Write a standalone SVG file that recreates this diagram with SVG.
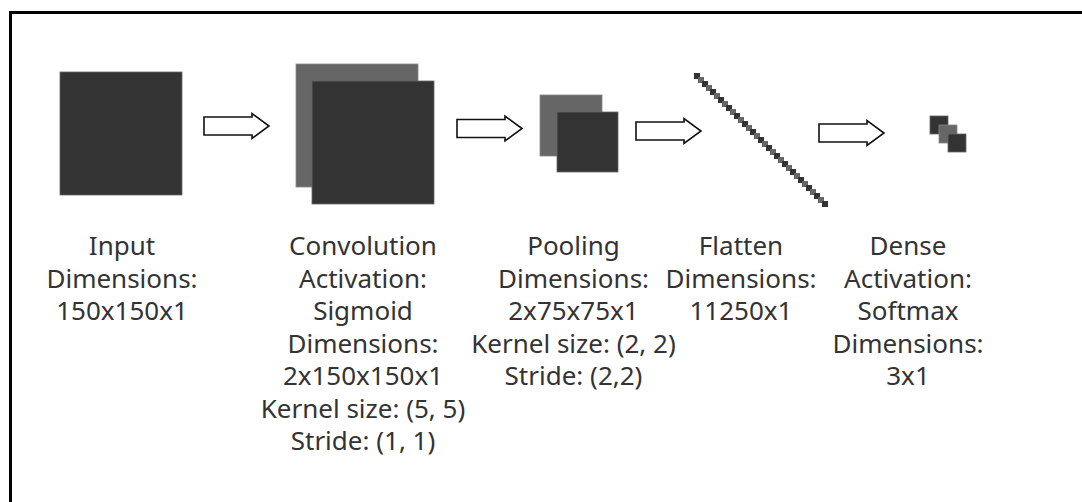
<svg xmlns="http://www.w3.org/2000/svg" xmlns:xlink="http://www.w3.org/1999/xlink" width="1082" height="502" viewBox="0 0 1082 502">
<style>
.dk{fill:#333;stroke:#666;stroke-width:0.8}
.lt{fill:#666;stroke:#888;stroke-width:0.8}
.fd{fill:#333}
.fl{fill:#666}
.lbl{font-family:"Noto Sans","Open Sans","DejaVu Sans",sans-serif;font-size:26px;fill:#333;text-anchor:middle}
.arr{fill:#fff;stroke:#111;stroke-width:1.6;stroke-linejoin:miter}
</style>
<defs>
<path id="arrow" d="M0,-9 H48 V-12.5 L65,0 L48,12.5 V9 H0 Z"/>
</defs>
<rect x="0" y="0" width="1082" height="502" fill="#fff"/>
<path d="M10.5,502 V12.5 H1082" fill="none" stroke="#000" stroke-width="3"/>

<g id="input">
<rect class="dk" x="60" y="72" width="122" height="123"/>
<text class="lbl" x="122" y="255">Input</text>
<text class="lbl" x="122" y="287.5">Dimensions:</text>
<text class="lbl" x="122" y="320">150x150x1</text>
</g>

<g id="convolution">
<rect class="lt" x="296" y="64" width="122" height="123"/>
<rect class="dk" x="312" y="81" width="122" height="123"/>
<text class="lbl" x="363" y="255">Convolution</text>
<text class="lbl" x="363" y="287.5">Activation:</text>
<text class="lbl" x="363" y="320">Sigmoid</text>
<text class="lbl" x="363" y="352.5">Dimensions:</text>
<text class="lbl" x="363" y="385">2x150x150x1</text>
<text class="lbl" x="363" y="417.5">Kernel size: (5, 5)</text>
<text class="lbl" x="363" y="450">Stride: (1, 1)</text>
</g>

<g id="pooling">
<rect class="lt" x="540" y="95" width="62" height="61"/>
<rect class="dk" x="557" y="112" width="61" height="60"/>
<text class="lbl" x="573.5" y="255">Pooling</text>
<text class="lbl" x="573.5" y="287.5">Dimensions:</text>
<text class="lbl" x="573.5" y="320">2x75x75x1</text>
<text class="lbl" x="573.5" y="352.5">Kernel size: (2, 2)</text>
<text class="lbl" x="573.5" y="385">Stride: (2,2)</text>
</g>

<g id="flatten">
<rect class="fd" x="694" y="73" width="6" height="6"/><rect class="fl" x="698" y="77" width="6" height="6"/>
<rect class="fd" x="702" y="81" width="6" height="6"/><rect class="fl" x="706" y="85" width="6" height="6"/>
<rect class="fd" x="710" y="89" width="6" height="6"/><rect class="fl" x="714" y="93" width="6" height="6"/>
<rect class="fd" x="718" y="97" width="6" height="6"/><rect class="fl" x="722" y="101" width="6" height="6"/>
<rect class="fd" x="726" y="105" width="6" height="6"/><rect class="fl" x="730" y="109" width="6" height="6"/>
<rect class="fd" x="734" y="113" width="6" height="6"/><rect class="fl" x="738" y="117" width="6" height="6"/>
<rect class="fd" x="742" y="121" width="6" height="6"/><rect class="fl" x="746" y="125" width="6" height="6"/>
<rect class="fd" x="750" y="129" width="6" height="6"/><rect class="fl" x="754" y="133" width="6" height="6"/>
<rect class="fd" x="758" y="137" width="6" height="6"/><rect class="fl" x="762" y="141" width="6" height="6"/>
<rect class="fd" x="766" y="145" width="6" height="6"/><rect class="fl" x="770" y="149" width="6" height="6"/>
<rect class="fd" x="774" y="153" width="6" height="6"/><rect class="fl" x="778" y="157" width="6" height="6"/>
<rect class="fd" x="782" y="161" width="6" height="6"/><rect class="fl" x="786" y="165" width="6" height="6"/>
<rect class="fd" x="790" y="169" width="6" height="6"/><rect class="fl" x="794" y="173" width="6" height="6"/>
<rect class="fd" x="798" y="177" width="6" height="6"/><rect class="fl" x="802" y="181" width="6" height="6"/>
<rect class="fd" x="806" y="185" width="6" height="6"/><rect class="fl" x="810" y="189" width="6" height="6"/>
<rect class="fd" x="814" y="193" width="6" height="6"/><rect class="fl" x="818" y="197" width="6" height="6"/>
<rect class="fd" x="822" y="201" width="6" height="6"/>
<text class="lbl" x="741" y="255">Flatten</text>
<text class="lbl" x="741" y="287.5">Dimensions:</text>
<text class="lbl" x="741" y="320">11250x1</text>
</g>

<g id="dense">
<rect class="dk" x="930" y="116" width="18" height="18"/>
<rect class="lt" x="939" y="125" width="18" height="18"/>
<rect class="dk" x="948" y="134" width="18" height="18"/>
<text class="lbl" x="908" y="255">Dense</text>
<text class="lbl" x="908" y="287.5">Activation:</text>
<text class="lbl" x="908" y="320">Softmax</text>
<text class="lbl" x="908" y="352.5">Dimensions:</text>
<text class="lbl" x="908" y="385">3x1</text>
</g>

<g id="connectors">
<use xlink:href="#arrow" class="arr" transform="translate(204,126)"/>
<use xlink:href="#arrow" class="arr" transform="translate(457,128.5)"/>
<use xlink:href="#arrow" class="arr" transform="translate(636,131)"/>
<use xlink:href="#arrow" class="arr" transform="translate(819,133)"/>
</g>
</svg>
